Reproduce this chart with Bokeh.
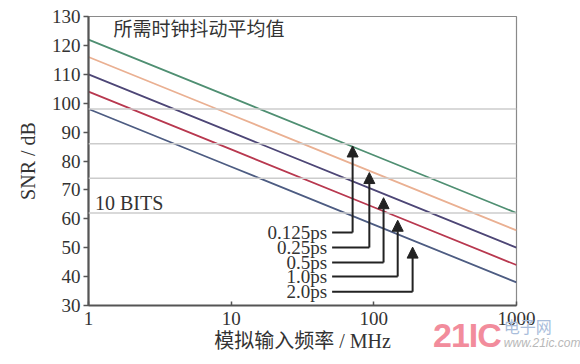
from bokeh.plotting import figure
from bokeh.models import (Arrow, NormalHead, Label, Span, FixedTicker,
                          ColumnDataSource, CustomJSTickFormatter, Div)
from bokeh.layouts import column
from bokeh.embed import file_html
from bokeh.resources import INLINE

# ---------------- data ----------------
freq_mhz = [1, 10, 100, 1000]
snr_0125ps = [122, 102, 82, 62]
snr_025ps = [116, 96, 76, 56]
snr_05ps = [110, 90, 70, 50]
snr_10ps = [104, 84, 64, 44]
snr_20ps = [98, 78, 58, 38]
series_colors = ["#4f8f72", "#eab092", "#4d4676", "#b8384f", "#4d5c82"]

enob_levels = [98, 86, 74, 62]

jitter_labels = ["0.125ps", "0.25ps", "0.5ps", "1.0ps", "2.0ps"]
arrow_x = [71, 93, 117, 147, 187]
arrow_tip_y = [85.2, 76.0, 67.3, 59.5, 50.2]
label_y = [55.3, 50.1, 44.9, 40.0, 34.8]
label_line_start_x = 51
label_text_x = 47

x_ticks = [1, 10, 100, 1000]
x_tick_labels = ["1", "10", "100", "1000"]
y_ticks = [30, 40, 50, 60, 70, 80, 90, 100, 110, 120, 130]

SERIF = "Liberation Serif, Noto Sans CJK SC"
TXT = "#333333"

p = figure(width=576, height=360, x_axis_type="log", x_range=(1, 1000),
           y_range=(30, 130), output_backend="svg", toolbar_location=None,
           min_border_left=88, min_border_right=60, min_border_top=16,
           min_border_bottom=55)
p.grid.visible = False
p.outline_line_color = "#8a8a8a"
p.outline_line_width = 1.2
p.background_fill_color = "white"
p.border_fill_color = "white"

# ENOB reference lines
for lv in enob_levels:
    p.add_layout(Span(location=lv, dimension="width", line_color="#cccccc",
                      line_width=1.5))

# jitter SNR lines
for ys, c in zip([snr_0125ps, snr_025ps, snr_05ps, snr_10ps, snr_20ps],
                 series_colors):
    p.line(freq_mhz, ys, line_color=c, line_width=1.8)

# labels and arrows
src = ColumnDataSource(dict(x=arrow_x, ty=arrow_tip_y, ly=label_y,
                            x0=[label_line_start_x] * len(arrow_x),
                            tx=[label_text_x] * len(arrow_x),
                            t=jitter_labels))
p.segment(x0="x0", y0="ly", x1="x", y1="ly", source=src,
          line_color="#222222", line_width=2)
p.add_layout(Arrow(end=NormalHead(size=11, fill_color="#222222",
                                  line_color="#222222"),
                   x_start="x", y_start="ly", x_end="x", y_end="ty",
                   source=src, line_color="#222222", line_width=2))
p.text(x="tx", y="ly", text="t", source=src, text_align="right",
       text_baseline="middle", text_font={"value": "Liberation Serif"},
       text_font_size="19px", text_color=TXT)

p.add_layout(Label(x=1.5, y=126.2, text="所需时钟抖动平均值",
                   text_font="Noto Sans CJK SC", text_font_size="19px",
                   text_color=TXT, text_baseline="middle"))
p.add_layout(Label(x=1.11, y=65.3, text="10 BITS",
                   text_font="Liberation Serif", text_font_size="20px",
                   text_color=TXT, text_baseline="middle"))

# axes
for ax in (p.xaxis[0], p.yaxis[0]):
    ax.axis_line_color = "#555555"
    ax.axis_line_width = 2.2
    ax.major_tick_line_color = "#555555"
    ax.major_tick_line_width = 1.5
    ax.minor_tick_line_color = None
    ax.major_label_text_font = SERIF
    ax.major_label_text_font_size = "19px"
    ax.major_label_text_color = TXT
    ax.axis_label_text_font = SERIF
    ax.axis_label_text_font_size = "20px"
    ax.axis_label_text_font_style = "normal"
    ax.axis_label_text_color = TXT

p.xaxis.ticker = FixedTicker(ticks=x_ticks)
p.xaxis.formatter = CustomJSTickFormatter(code="return tick.toString();")
p.xaxis.major_label_overrides = dict(zip(x_ticks, x_tick_labels))
p.xaxis.major_tick_in = 4
p.xaxis.major_tick_out = 0
p.xaxis.major_label_standoff = 6
p.xaxis.axis_label = "模拟输入频率 / MHz"
p.xaxis.axis_label_standoff = 2

p.yaxis.ticker = FixedTicker(ticks=y_ticks)
p.yaxis.major_tick_in = 0
p.yaxis.major_tick_out = 5
p.yaxis.major_label_standoff = 3
p.yaxis.axis_label = "SNR / dB"
p.yaxis.axis_label_standoff = 10

# watermark, overlaid at the bottom-right corner
mark = Div(
    text=('<span style="font:bold 34px \'Liberation Sans\';color:#f28c9c;'
          'letter-spacing:-1px;line-height:34px">21IC</span>'
          '<span style="display:inline-block;vertical-align:top;'
          'margin-left:3px;line-height:14px">'
          '<span style="font:16px \'Noto Sans CJK SC\';color:#a9bddb;'
          'line-height:17px">电子网</span><br>'
          '<span style="font:italic 12px \'Liberation Sans\';color:#b8b8b8;'
          'line-height:13px">www.21ic.com</span></span>'),
    styles={"position": "absolute", "left": "433px", "top": "318px",
            "white-space": "nowrap", "margin": "0", "padding": "0"})

open("out.html", "w").write(file_html(column(p, mark), INLINE))
